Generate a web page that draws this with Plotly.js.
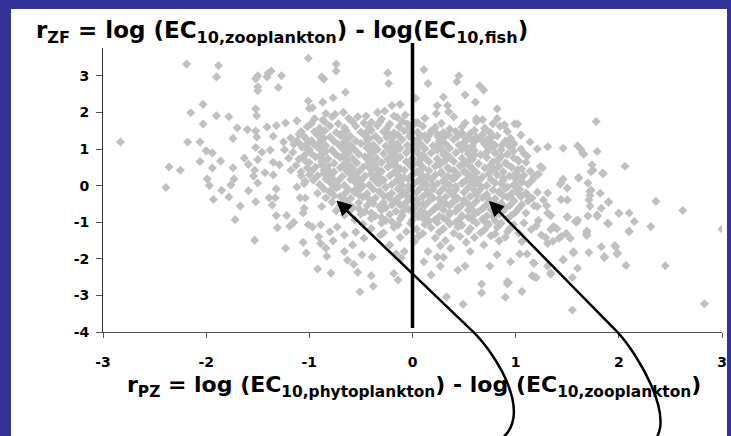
<!DOCTYPE html>
<html><head><meta charset="utf-8">
<script src="https://cdn.plot.ly/plotly-3.0.1.min.js"></script>
<style>
html,body{margin:0;padding:0;background:#333399;width:731px;height:436px;overflow:hidden}
#chart{position:absolute;left:11px;top:9px;width:716px;height:427px;background:#fff}
</style></head><body><div id="chart"></div><script>
// ---- data: [rPZ, rZF] pairs ----
const outerPoints = [
[-2.19,3.32],[-1.88,3.28],[-1.90,2.97],[-1.50,3.00],[-1.52,2.92],[-1.37,3.13],[-1.41,2.97],[-1.27,3.00],[-1.50,2.70],[-1.50,2.59],[-1.30,2.68],[-1.01,3.48],
[-2.03,2.22],[-2.15,1.99],[-1.90,1.91],[-1.78,1.88],[-1.52,2.10],[-1.51,1.91],[-1.01,2.31],[-1.00,2.11],[-2.03,1.68],[-1.70,1.58],[-1.60,1.53],[-1.52,1.49],
[-1.41,1.60],[-1.32,1.64],[-1.23,1.71],[-1.12,1.77],[-2.83,1.19],[-2.18,1.19],[-2.06,1.19],[-1.74,1.29],[-1.51,1.33],[-1.35,1.35],[-1.25,1.19],[-1.15,1.13],
[-1.08,1.48],[-2.00,0.95],[-1.94,0.89],[-1.52,1.04],[-1.46,0.91],[-1.38,0.97],[-1.16,0.91],[-1.05,0.82],[-2.36,0.51],[-2.25,0.42],[-2.06,0.66],[-1.94,0.48],
[-1.86,0.67],[-1.74,0.49],[-1.63,0.75],[-1.59,0.58],[-1.50,0.71],[-1.35,0.64],[-1.29,0.57],[-1.13,0.55],[-1.02,0.48],[-1.53,0.42],[-1.43,0.35],[-1.35,0.29],
[-1.18,0.42],[-1.08,0.27],[-1.99,0.18],[-1.73,0.18],[-1.54,0.26],[-2.39,-0.05],[-1.97,0.00],[-1.76,0.02],[-1.85,-0.13],[-1.59,-0.14],[-1.50,0.07],[-1.32,-0.09],
[-1.12,-0.04],[-1.04,0.12],[-1.40,3.07],[-0.86,2.91],
[-1.10,1.40],[-1.04,1.30],[-1.12,1.22],[-1.02,1.15],[-1.07,1.05],[-1.00,0.98],[-1.10,0.72],[-1.03,0.65],[-1.08,0.38],[-1.00,0.30],[-1.05,0.05],[-1.20,0.75],[-1.24,0.98],[-1.18,1.30],
[-1.93,-0.38],[-1.78,-0.31],[-1.67,-0.56],[-1.52,-0.44],[-1.72,-0.93],[-1.39,-0.33],[-1.33,-0.33],[-1.36,-0.53],[-1.32,-0.82],[-1.22,-0.82],[-1.31,-1.15],[-1.19,-1.11],
[-1.15,-1.00],[-1.05,-0.62],[-1.06,-0.75],[-1.01,-1.07],[-1.53,-1.49],[-1.23,-1.71],[-1.06,-1.55],[-1.03,-1.84],[-1.09,-0.33],[-1.04,-0.34],
[-0.74,3.32],[-0.74,3.13],[-0.88,2.97],[-0.24,3.08],[-0.23,2.79],[-0.77,2.40],[-0.65,2.55],[-0.87,2.28],[-0.97,2.13],[-0.84,1.97],[-0.75,1.95],[-0.67,2.00],
[-0.87,1.79],[-0.34,2.00],[-0.27,2.04],[-0.20,2.19],[-0.12,2.22],[-0.18,1.90],[-0.40,1.73],[-0.60,1.79],[-0.53,1.88],[-0.07,1.93],[-0.05,1.69],
[0.11,3.17],[0.15,2.79],[0.45,3.00],[0.43,2.84],[0.65,2.73],[0.69,2.61],[0.51,2.48],[0.30,2.42],[0.03,2.39],[0.61,2.28],[0.24,2.19],[0.34,2.19],[0.82,2.10],
[0.68,1.80],[0.23,1.97],[0.35,2.02],[0.51,1.71],[0.89,1.64],[0.99,1.69],[0.03,1.71],[0.07,1.39],[0.16,1.37],[0.36,1.55],[0.44,1.35],[0.56,1.42],[0.67,1.24],
[0.77,1.37],[0.87,1.11],[0.95,1.29],[0.82,1.83],[0.89,1.66],[0.98,1.16],
[1.02,1.68],[1.78,1.75],[1.14,1.19],[1.21,1.00],[1.31,1.06],[1.46,1.02],[1.60,1.09],[1.63,1.00],[1.66,0.86],[1.79,0.93],[1.11,0.80],[1.03,0.67],[1.74,0.57],
[1.75,0.42],[1.85,0.33],[2.06,0.53],[1.26,0.48],[1.22,0.31],[1.61,0.20],[1.70,0.07],[1.06,0.11],[1.46,0.18],[1.43,0.04],[1.50,-0.07],[1.72,-0.16],[1.21,-0.18],
[1.31,-0.20],[1.00,0.02],[1.18,0.25],[1.24,0.52],[1.44,0.07],[1.27,-0.39],[1.21,-0.57],[1.31,-0.75],[1.50,-0.85],[1.60,-0.94],[1.37,-1.12],[1.44,-1.39],
[1.53,-1.44],[1.69,-1.30],[1.82,-0.21],[1.79,-0.80],[1.73,-0.12],[1.71,-0.39],[1.61,0.22],[1.84,0.34],[1.90,-0.44],[2.00,-0.75],[2.10,-0.75],[2.15,-0.98],
[1.89,-1.03],[2.10,-1.26],[1.99,-1.85],[1.97,-1.67],[1.86,-1.94],[1.83,-1.67],[1.71,-1.83],[1.56,-1.81],[1.60,-2.26],[1.46,-2.03],[1.34,-2.39],[1.18,-2.12],
[1.18,-2.49],[0.92,-2.62],[1.06,-2.89],[1.20,0.28],[1.50,-0.39],[1.58,-0.98],[1.70,-0.83],[1.65,0.89],[1.73,0.38],
[2.36,-0.43],[2.62,-0.68],[3.00,-1.19],[2.31,-1.12],[2.45,-2.19],[2.83,-3.23],[2.07,-2.18],[1.55,-3.40],[0.90,-3.05],[0.93,-2.65],
[1.90,-0.46],[2.00,-0.76],[2.10,-1.24],[1.90,-1.04],[1.79,-0.84],[1.83,-0.62],[1.72,-0.56],[1.72,-0.27],[1.44,-0.38],[1.50,-0.86],[1.59,-1.00],[1.34,-0.82],
[1.69,-1.24],[1.69,-1.36],[1.96,-1.64],[1.98,-1.86],[1.86,-1.97],[1.56,-1.84],[1.46,-2.02],[1.55,-2.51],[1.34,-2.42],[1.17,-2.11],[1.16,-2.46],[1.20,-2.51],
[1.31,-2.20],[1.34,-1.20],[1.40,-1.18],[1.49,-1.31],[1.42,-1.44],[1.29,-1.42],[1.31,-1.58],[1.36,-1.52],[1.06,-1.53],[1.04,-1.87],[1.11,-1.87],
[1.05,-0.30],[1.12,-0.42],[1.18,-0.55],[1.03,-0.62],[1.10,-0.75],[1.22,-0.95],[1.08,-1.02],[1.15,-1.20],[1.03,-1.30],[1.25,-1.35],[1.12,-0.28],[1.30,-0.55],[1.20,-1.10],
[-0.92,-2.28],[-0.79,-2.39],[-0.51,-2.90],[-0.38,-2.75],[-0.40,-2.46],[-0.18,-2.40],[-0.14,-2.58],[-0.53,-2.37],[-0.63,-2.04],[-0.57,-2.15],[-0.66,-1.80],
[-0.49,-1.89],[-0.39,-1.95],[-0.83,-1.93],[-0.91,-1.40],[-0.89,-1.58],[-0.77,-1.51],[-0.84,-1.71],[-0.66,-1.35],[-0.58,-1.62],[-0.55,-1.27],[-0.47,-1.44],
[-0.31,-1.35],[-0.22,-1.62],[-0.16,-1.86],[-0.11,-1.98],[-0.08,-1.80],[-0.97,-1.13],[-0.89,-1.07],[-0.80,-1.26],[-0.73,-1.13],
[0.18,-2.44],[0.33,-3.04],[0.49,-3.24],[0.44,-2.31],[0.51,-2.20],[0.67,-2.69],[0.67,-2.93],[0.75,-2.20],[0.92,-2.68],[0.27,-2.20],[0.24,-1.95],[0.30,-1.96],
[0.11,-2.08],[0.15,-1.80],[0.27,-1.64],[0.37,-1.71],[0.56,-1.80],[0.69,-1.62],[0.82,-1.89],[0.95,-2.08]
];
const densePoints = [
[-0.95,1.83],[-0.78,1.88],[-0.62,1.84],[-0.45,1.90],[-0.30,1.82],[-0.15,1.87],[0.12,1.84],[0.40,1.88],[0.62,1.83],
[-0.98,1.70],[-0.85,1.74],[-0.72,1.69],[-0.58,1.75],[-0.47,1.71],[-0.32,1.73],[-0.22,1.68],[-0.10,1.76],[0.05,1.72],[0.28,1.70],[0.62,1.75],[0.78,1.69],
[-1.02,1.61],[-0.90,1.57],[-0.80,1.63],[-0.66,1.58],[-0.55,1.62],[-0.42,1.59],[-0.34,1.64],[-0.25,1.57],[-0.13,1.61],[-0.02,1.58],[0.10,1.62],[0.22,1.59],[0.48,1.60],[0.70,1.57],[0.85,1.62],
[-0.95,1.47],[-0.85,1.50],[-0.74,1.45],[-0.64,1.49],[-0.50,1.46],[-0.40,1.51],[-0.28,1.47],[-0.18,1.44],[-0.08,1.50],[0.05,1.46],[0.18,1.49],[0.30,1.45],[0.42,1.48],[0.60,1.51],[0.75,1.46],[0.92,1.48],
[-1.05,1.35],[-0.92,1.38],[-0.80,1.33],[-0.70,1.37],[-0.60,1.34],[-0.47,1.39],[-0.36,1.35],[-0.25,1.32],[-0.14,1.38],[-0.03,1.34],[0.12,1.37],[0.25,1.33],[0.35,1.39],[0.50,1.35],[0.62,1.32],[0.82,1.36],[1.05,1.38],
[-0.98,1.23],[-0.88,1.26],[-0.76,1.21],[-0.64,1.25],[-0.55,1.22],[-0.44,1.27],[-0.32,1.23],[-0.20,1.20],[-0.10,1.26],[0.02,1.22],[0.14,1.25],[0.26,1.21],[0.40,1.26],[0.52,1.23],[0.60,1.20],[0.72,1.25],[0.90,1.22],
[-1.08,1.11],[-0.96,1.14],[-0.84,1.09],[-0.72,1.13],[-0.60,1.10],[-0.50,1.15],[-0.38,1.11],[-0.26,1.08],[-0.15,1.14],[-0.05,1.10],[0.08,1.13],[0.20,1.09],[0.32,1.14],[0.45,1.11],[0.58,1.08],[0.70,1.13],[0.80,1.10],[0.98,1.12],
[-1.02,0.99],[-0.90,1.02],[-0.78,0.97],[-0.68,1.01],[-0.56,0.98],[-0.44,1.03],[-0.34,0.99],[-0.22,0.96],[-0.12,1.02],[0.00,0.98],[0.12,1.01],[0.24,0.97],[0.36,1.02],[0.48,0.99],[0.60,0.96],[0.74,1.01],[0.86,0.98],[1.05,1.00],
[-0.98,0.87],[-0.86,0.90],[-0.74,0.85],[-0.62,0.89],[-0.52,0.86],[-0.40,0.91],[-0.28,0.87],[-0.18,0.84],[-0.06,0.90],[0.06,0.86],[0.18,0.89],[0.30,0.85],[0.42,0.90],[0.54,0.87],[0.66,0.84],[0.80,0.89],[0.92,0.86],[1.08,0.88],
[-1.06,0.75],[-0.94,0.78],[-0.82,0.73],[-0.70,0.77],[-0.58,0.74],[-0.46,0.79],[-0.35,0.75],[-0.24,0.72],[-0.12,0.78],[0.00,0.74],[0.12,0.77],[0.24,0.73],[0.36,0.78],[0.48,0.75],[0.58,0.72],[0.72,0.77],[0.84,0.74],[0.98,0.76],
[-1.00,0.63],[-0.88,0.66],[-0.76,0.61],[-0.64,0.65],[-0.54,0.62],[-0.42,0.67],[-0.30,0.63],[-0.18,0.60],[-0.06,0.66],[0.06,0.62],[0.16,0.65],[0.28,0.61],[0.40,0.66],[0.52,0.63],[0.64,0.60],[0.78,0.65],[0.90,0.62],[1.10,0.64],
[-0.94,0.51],[-0.82,0.54],[-0.70,0.49],[-0.60,0.53],[-0.48,0.50],[-0.36,0.55],[-0.24,0.51],[-0.14,0.48],[-0.02,0.54],[0.10,0.50],[0.22,0.53],[0.34,0.49],[0.46,0.54],[0.56,0.51],[0.70,0.48],[0.84,0.53],[0.96,0.50],
[-0.98,0.39],[-0.86,0.42],[-0.76,0.37],[-0.64,0.41],[-0.52,0.38],[-0.40,0.43],[-0.30,0.39],[-0.18,0.36],[-0.08,0.42],[0.04,0.38],[0.16,0.41],[0.28,0.37],[0.40,0.42],[0.50,0.39],[0.62,0.36],[0.76,0.41],[0.88,0.38],[1.02,0.43],[1.14,0.39],
[-0.92,0.27],[-0.80,0.30],[-0.68,0.25],[-0.56,0.29],[-0.46,0.26],[-0.34,0.31],[-0.22,0.27],[-0.12,0.24],[0.00,0.30],[0.10,0.26],[0.22,0.29],[0.34,0.25],[0.44,0.30],[0.56,0.27],[0.68,0.24],[0.82,0.29],[0.94,0.26],[1.08,0.28],
[-0.96,0.15],[-0.84,0.18],[-0.72,0.13],[-0.60,0.17],[-0.50,0.14],[-0.38,0.19],[-0.28,0.15],[-0.16,0.12],[-0.04,0.18],[0.06,0.14],[0.18,0.17],[0.30,0.13],[0.40,0.18],[0.52,0.15],[0.64,0.12],[0.76,0.17],[0.88,0.14],[1.00,0.19],[1.16,0.15],
[-0.90,0.03],[-0.78,0.06],[-0.66,0.01],[-0.54,0.05],[-0.42,0.02],[-0.32,0.07],[-0.20,0.03],[-0.10,0.00],[0.02,0.06],[0.14,0.02],[0.24,0.05],[0.36,0.01],[0.48,0.06],[0.60,0.03],[0.72,0.00],[0.86,0.05],[0.98,0.02],[1.12,0.04],
[-0.86,-0.09],[-0.74,-0.06],[-0.62,-0.11],[-0.50,-0.07],[-0.38,-0.10],[-0.26,-0.05],[-0.14,-0.09],[-0.04,-0.12],[0.08,-0.06],[0.20,-0.10],[0.30,-0.07],[0.42,-0.11],[0.54,-0.06],[0.66,-0.09],[0.78,-0.12],[0.90,-0.07],[1.04,-0.10],
[-0.92,-0.21],[-0.80,-0.18],[-0.66,-0.23],[-0.56,-0.19],[-0.44,-0.22],[-0.32,-0.17],[-0.20,-0.21],[-0.10,-0.24],[0.04,-0.18],[0.14,-0.22],[0.26,-0.19],[0.38,-0.23],[0.50,-0.18],[0.62,-0.21],[0.72,-0.24],[0.84,-0.19],[0.96,-0.22],[1.10,-0.20],
[-0.84,-0.33],[-0.70,-0.30],[-0.60,-0.35],[-0.48,-0.31],[-0.36,-0.34],[-0.24,-0.29],[-0.14,-0.33],[-0.02,-0.36],[0.10,-0.30],[0.20,-0.34],[0.32,-0.31],[0.44,-0.35],[0.56,-0.30],[0.68,-0.33],[0.80,-0.36],[0.92,-0.31],[1.16,-0.34],
[-0.78,-0.45],[-0.64,-0.42],[-0.52,-0.47],[-0.40,-0.43],[-0.28,-0.46],[-0.16,-0.41],[-0.06,-0.45],[0.06,-0.48],[0.16,-0.42],[0.28,-0.46],[0.40,-0.43],[0.50,-0.47],[0.62,-0.42],[0.74,-0.45],[0.86,-0.48],[0.98,-0.43],
[-0.88,-0.57],[-0.70,-0.54],[-0.58,-0.59],[-0.44,-0.55],[-0.32,-0.58],[-0.20,-0.53],[-0.08,-0.57],[0.02,-0.60],[0.12,-0.54],[0.24,-0.58],[0.36,-0.55],[0.46,-0.59],[0.58,-0.54],[0.70,-0.57],[0.82,-0.60],[0.94,-0.55],
[-0.74,-0.69],[-0.60,-0.66],[-0.46,-0.71],[-0.30,-0.67],[-0.16,-0.70],[-0.04,-0.65],[0.08,-0.69],[0.18,-0.72],[0.30,-0.66],[0.42,-0.70],[0.54,-0.67],[0.64,-0.71],[0.76,-0.66],[0.88,-0.69],[1.00,-0.72],
[-0.66,-0.81],[-0.50,-0.78],[-0.36,-0.83],[-0.22,-0.79],[-0.10,-0.82],[0.02,-0.77],[0.14,-0.81],[0.26,-0.84],[0.36,-0.78],[0.48,-0.82],[0.60,-0.79],[0.72,-0.83],[0.84,-0.78],[0.96,-0.81],
[-0.56,-0.93],[-0.40,-0.90],[-0.26,-0.95],[-0.12,-0.91],[0.00,-0.94],[0.10,-0.89],[0.22,-0.93],[0.34,-0.96],[0.46,-0.90],[0.58,-0.94],[0.68,-0.91],[0.80,-0.95],[0.92,-0.90],
[-0.48,-1.05],[-0.30,-1.02],[-0.14,-1.07],[-0.02,-1.03],[0.12,-1.06],[0.24,-1.01],[0.36,-1.05],[0.48,-1.08],[0.62,-1.02],[0.74,-1.06],[0.86,-1.03],[0.98,-1.07],
[-0.40,-1.17],[-0.18,-1.14],[0.04,-1.19],[0.18,-1.15],[0.30,-1.18],[0.44,-1.13],[0.56,-1.17],[0.70,-1.20],[0.82,-1.14],[0.94,-1.18],
[-0.28,-1.29],[-0.06,-1.26],[0.10,-1.31],[0.26,-1.27],[0.40,-1.30],[0.54,-1.25],[0.66,-1.29],[0.80,-1.32],[0.92,-1.26],
[-0.12,-1.41],[0.06,-1.38],[0.22,-1.43],[0.46,-1.39],[0.60,-1.42],[0.76,-1.37],[0.90,-1.41],
[0.02,-1.53],[0.32,-1.50],[0.52,-1.55],[0.84,-1.51]
];
const corePoints = [
[-0.90,1.43],[-0.69,1.41],[-0.45,1.44],[-0.23,1.40],[-0.02,1.43],[0.24,1.41],[0.48,1.44],[0.68,1.40],
[-0.86,1.29],[-0.66,1.31],[-0.42,1.28],[-0.19,1.32],[0.06,1.29],[0.30,1.31],[0.56,1.28],[0.76,1.30],
[-0.90,1.17],[-0.66,1.19],[-0.44,1.16],[-0.20,1.18],[0.02,1.20],[0.26,1.16],[0.50,1.18],[0.76,1.17],[0.92,1.19],
[-0.92,1.05],[-0.64,1.07],[-0.44,1.04],[-0.20,1.06],[0.06,1.08],[0.26,1.05],[0.52,1.06],[0.76,1.04],[0.94,1.07],
[-0.84,0.93],[-0.62,0.95],[-0.38,0.92],[-0.16,0.94],[0.04,0.96],[0.30,0.93],[0.54,0.95],[0.72,0.92],[0.98,0.94],
[-0.90,0.81],[-0.66,0.83],[-0.42,0.80],[-0.20,0.82],[0.10,0.84],[0.34,0.81],[0.60,0.83],[0.86,0.80],
[-0.86,0.69],[-0.64,0.71],[-0.40,0.68],[-0.16,0.70],[0.08,0.72],[0.32,0.69],[0.56,0.71],[0.82,0.68],[1.02,0.70],
[-0.88,0.57],[-0.66,0.59],[-0.44,0.56],[-0.20,0.58],[0.02,0.60],[0.26,0.57],[0.50,0.59],[0.76,0.56],[0.92,0.58],
[-0.82,0.45],[-0.58,0.47],[-0.34,0.44],[-0.12,0.46],[0.10,0.48],[0.36,0.45],[0.58,0.47],[0.80,0.44],[1.06,0.46],
[-0.86,0.33],[-0.62,0.35],[-0.40,0.32],[-0.16,0.34],[0.06,0.36],[0.28,0.33],[0.52,0.35],[0.74,0.32],[1.00,0.34],
[-0.78,0.21],[-0.54,0.23],[-0.32,0.20],[-0.08,0.22],[0.14,0.24],[0.38,0.21],[0.60,0.23],[0.88,0.20],[1.04,0.22],
[-0.80,0.09],[-0.56,0.11],[-0.34,0.08],[-0.12,0.10],[0.10,0.12],[0.32,0.09],[0.56,0.11],[0.80,0.08],[1.06,0.10],
[-0.72,-0.03],[-0.48,-0.01],[-0.26,-0.04],[-0.04,-0.02],[0.20,0.00],[0.42,-0.03],[0.66,-0.01],[0.92,-0.04],
[-0.80,-0.15],[-0.56,-0.13],[-0.32,-0.16],[-0.10,-0.14],[0.14,-0.12],[0.36,-0.15],[0.60,-0.13],[0.84,-0.16],[1.00,-0.14],
[-0.76,-0.27],[-0.52,-0.25],[-0.28,-0.28],[-0.06,-0.26],[0.16,-0.24],[0.40,-0.27],[0.62,-0.25],[0.88,-0.28],[1.04,-0.26],
[-0.66,-0.39],[-0.42,-0.37],[-0.20,-0.40],[0.04,-0.38],[0.26,-0.36],[0.50,-0.39],[0.74,-0.37],[0.98,-0.40],
[-0.62,-0.51],[-0.38,-0.49],[-0.12,-0.52],[0.10,-0.50],[0.32,-0.48],[0.54,-0.51],[0.80,-0.49],[1.06,-0.52],
[-0.52,-0.63],[-0.26,-0.61],[0.00,-0.64],[0.22,-0.62],[0.44,-0.60],[0.68,-0.63],[0.90,-0.61],
[-0.40,-0.75],[-0.10,-0.73],[0.12,-0.76],[0.36,-0.74],[0.60,-0.72],[0.82,-0.75],
[-0.30,-0.87],[0.06,-0.85],[0.30,-0.88],[0.54,-0.86],[0.78,-0.84],
[-0.20,-0.99],[0.16,-0.97],[0.42,-1.00],[0.70,-0.98]
];
const xTicks = [-3,-2,-1,0,1,2,3];
const xTickText = ['-3','-2','-1','0','1','2','3'];
const yTicks = [-4,-3,-2,-1,0,1,2,3];
const yTickText = ['-4','-3','-2','-1','0','1','2','3'];
const titleText = 'r<sub>ZF</sub> = log (EC<sub>10,zooplankton</sub>) - log(EC<sub>10,fish</sub>)';
const xTitleText = 'r<sub>PZ</sub> = log (EC<sub>10,phytoplankton</sub>) - log (EC<sub>10,zooplankton</sub>)';

// ---- layout geometry ----
const W = 716, H = 427, ML = 92, MR = 5, MT = 39, MB = 104;
const OX = 11, OY = 9; // div offset in page
const PW = W - ML - MR, PH = H - MT - MB;
function px(pageX){ return (pageX - OX - ML) / PW; }
function py(pageY){ return (H - MB - (pageY - OY)) / PH; }
function P(a,b){ return px(a).toFixed(4) + ',' + py(b).toFixed(4); }

const allPts = outerPoints.concat(densePoints, corePoints);
const font = 'DejaVu Sans, Arial, sans-serif';

const trace = {
  type: 'scatter', mode: 'markers',
  x: allPts.map(p => p[0]), y: allPts.map(p => p[1]),
  marker: {symbol: 'diamond', size: 7, color: '#c0c0c0', line: {width: 0}},
  hoverinfo: 'skip', showlegend: false
};

const shapes = [
  {type: 'line', xref: 'x', yref: 'paper', x0: 0, x1: 0, y0: py(328), y1: py(43),
   line: {color: '#000', width: 3.5}},
  {type: 'path', xref: 'paper', yref: 'paper',
   path: 'M ' + P(344,208) + ' L ' + P(473,331.7) + ' C ' + P(497,355) + ' ' + P(534,415) + ' ' + P(500,440),
   line: {color: '#000', width: 2.5}},
  {type: 'path', xref: 'paper', yref: 'paper',
   path: 'M ' + P(337,201) + ' L ' + P(352,205.5) + ' L ' + P(342.5,215.5) + ' Z',
   fillcolor: '#000', line: {color: '#000', width: 1}},
  {type: 'path', xref: 'paper', yref: 'paper',
   path: 'M ' + P(496,208.5) + ' L ' + P(617,331.7) + ' C ' + P(638,354) + ' ' + P(674,415) + ' ' + P(655,440),
   line: {color: '#000', width: 2.5}},
  {type: 'path', xref: 'paper', yref: 'paper',
   path: 'M ' + P(489.5,201.5) + ' L ' + P(504,206.5) + ' L ' + P(494.5,216.5) + ' Z',
   fillcolor: '#000', line: {color: '#000', width: 1}}
];

const annotations = [
  {xref: 'paper', yref: 'paper', x: px(34), y: py(32), xanchor: 'left', yanchor: 'middle',
   text: titleText, showarrow: false, font: {family: font, size: 23, color: '#000', weight: 'bold'}},
  {xref: 'paper', yref: 'paper', x: px(414), y: py(386), xanchor: 'center', yanchor: 'middle',
   text: xTitleText, showarrow: false, font: {family: font, size: 22, color: '#000', weight: 'bold'}}
];

const layout = {
  width: W, height: H,
  margin: {l: ML, r: MR, t: MT, b: MB, pad: 0},
  paper_bgcolor: '#ffffff', plot_bgcolor: '#ffffff',
  showlegend: false,
  xaxis: {range: [-3, 3], tickvals: xTicks, ticktext: xTickText, showgrid: false, zeroline: false,
    showline: true, linecolor: '#555', linewidth: 1, ticks: 'outside', ticklen: 5, tickcolor: '#555',
    ticklabelstandoff: 12, tickfont: {family: font, size: 14, color: '#000', weight: 'bold'}},
  yaxis: {range: [-4, 3.76], tickvals: yTicks, ticktext: yTickText, showgrid: false, zeroline: false,
    showline: true, linecolor: '#333', linewidth: 1, ticks: 'outside', ticklen: 6, tickcolor: '#555',
    ticklabelstandoff: 4, tickfont: {family: font, size: 14, color: '#000', weight: 'bold'}},
  shapes: shapes, annotations: annotations
};

Plotly.newPlot('chart', [trace], layout, {staticPlot: true, displayModeBar: false});
</script></body></html>
